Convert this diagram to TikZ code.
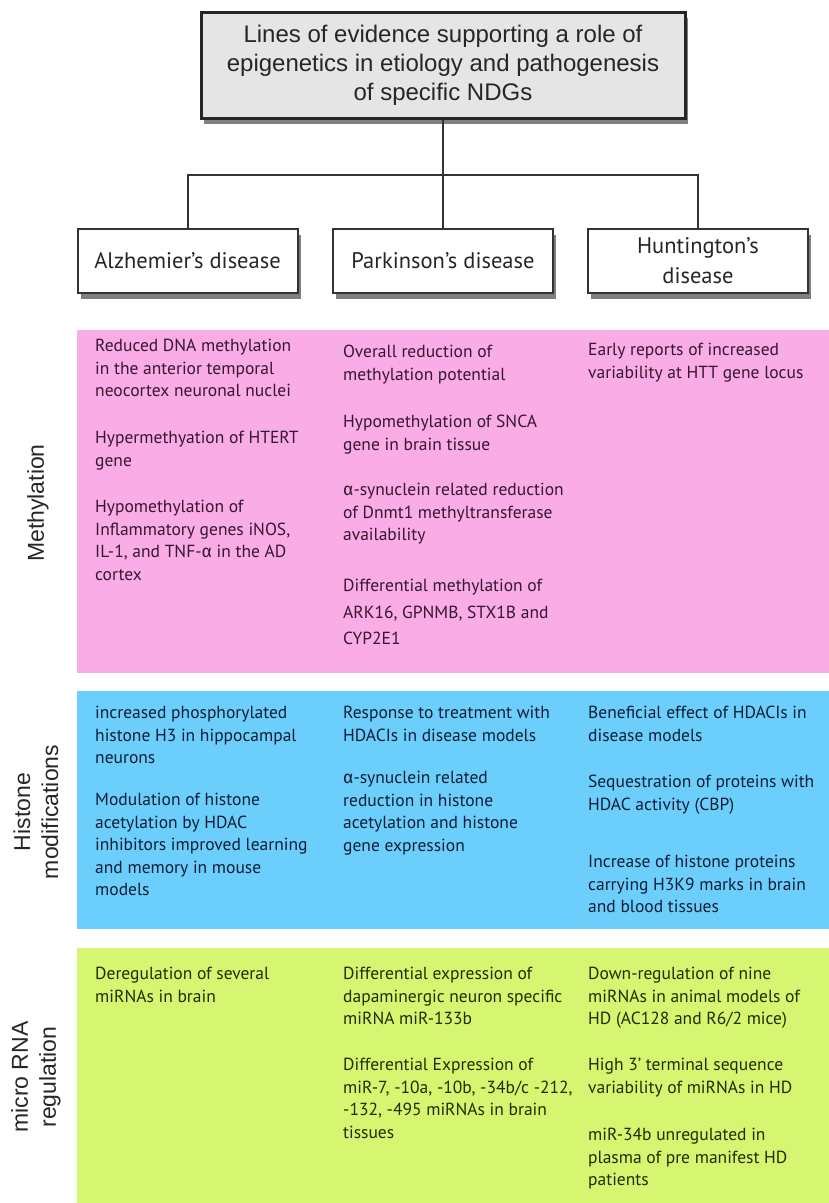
\documentclass[tikz,border=0pt]{standalone}
\usepackage{fontspec}
\setmainfont{PT Sans}
\newfontfamily\helv{Liberation Sans}
\newfontfamily\grk{Fira Sans}
\usetikzlibrary{shadows}
\definecolor{pinkc}{RGB}{249,172,229}
\definecolor{bluec}{RGB}{108,206,250}
\definecolor{greenc}{RGB}{214,245,112}
\definecolor{pinkt}{RGB}{55,22,48}
\definecolor{bluet}{RGB}{14,30,55}
\definecolor{greent}{RGB}{34,45,0}
\newcommand{\alp}{{\grk α}}
\begin{document}
\begin{tikzpicture}[x=1pt,y=-1pt,
  topbox/.style={draw=black!85, line width=3pt, fill=black!10, minimum width=484pt, minimum height=106pt,
    align=center, inner sep=0pt, font=\helv\fontsize{24}{29}\selectfont, text=black!85,
    drop shadow={shadow xshift=3pt, shadow yshift=-6pt, opacity=0.5, fill=black}},
  dbox/.style={draw=black!80, line width=2pt, fill=white, minimum width=220pt, minimum height=64pt,
    align=center, inner sep=0pt, font=\fontsize{22.5}{30}\selectfont, text=black!85,
    drop shadow={shadow xshift=3pt, shadow yshift=-6pt, opacity=0.5, fill=black}},
  band/.style={anchor=north west, inner sep=0pt, draw=none},
  cell/.style={anchor=north west, inner sep=0pt, align=left, font=\fontsize{17.5}{22.5}\selectfont},
  cellw/.style={anchor=north west, inner sep=0pt, align=left, font=\fontsize{17.5}{26.5}\selectfont},
  side/.style={rotate=90, align=center, inner sep=0pt, font=\helv\fontsize{23}{28}\selectfont, text=black!85},
  conn/.style={draw=black!80, line width=2pt}
]
\useasboundingbox (0,0) rectangle (829,1203);

% bands
\node[band, fill=pinkc, minimum width=752pt, minimum height=343pt] (bm) at (77,330) {};
\node[band, fill=bluec, minimum width=752pt, minimum height=238pt] (bh) at (77,691) {};
\node[band, fill=greenc, minimum width=752pt, minimum height=255pt] (bg) at (77,948) {};

% header
\node[topbox] (top) at (443,65) {Lines of evidence supporting a role of\\epigenetics in etiology and pathogenesis\\of specific NDGs};
\node[dbox] (ad) at (187.5,261) {Alzhemier’s disease};
\node[dbox] (pd) at (443,261) {Parkinson’s disease};
\node[dbox] (hd) at (698,261) {Huntington’s\\disease};

\coordinate (hub) at (443,175);
\draw[conn] (top.south) -- (hub);
\draw[conn] (ad.north) |- (hub) -| (hd.north);
\draw[conn] (hub) -- (pd.north);

% side labels
\node[side] (lm) at (38,503) {Methylation};
\node[side] (lh) at (36,812) {Histone\\modifications};
\node[side] (lr) at (36,1077) {micro RNA\\regulation};

% methylation
\begin{scope}[every node/.append style={text=pinkt}]
\node[cell] (m11) at (95,336) {\strut Reduced DNA methylation\\in the anterior temporal\\neocortex neuronal nuclei};
\node[cell] (m12) at (95,428) {\strut Hypermethyation of HTERT\\gene};
\node[cell] (m13) at (95,497) {\strut Hypomethylation of\\Inflammatory genes iNOS,\\IL-1, and TNF-\alp{} in the AD\\cortex};
\node[cell] (m21) at (343,342) {\strut Overall reduction of\\methylation potential};
\node[cell] (m22) at (343,412) {\strut Hypomethylation of SNCA\\gene in brain tissue};
\node[cell] (m23) at (343,480) {\strut \alp-synuclein related reduction\\of Dnmt1 methyltransferase\\availability};
\node[cellw] (m24) at (343,573) {\strut Differential methylation of\\ARK16, GPNMB, STX1B and\\CYP2E1};
\node[cell] (m31) at (588,340) {\strut Early reports of increased\\variability at HTT gene locus};
\end{scope}

% histone
\begin{scope}[every node/.append style={text=bluet}]
\node[cell] (h11) at (95,703) {\strut increased phosphorylated\\histone H3 in hippocampal\\neurons};
\node[cell] (h12) at (95,790) {\strut Modulation of histone\\acetylation by HDAC\\inhibitors improved learning\\and memory in mouse\\models};
\node[cell] (h21) at (343,703) {\strut Response to treatment with\\HDACIs in disease models};
\node[cell] (h22) at (343,768) {\strut \alp-synuclein related\\reduction in histone\\acetylation and histone\\gene expression};
\node[cell] (h31) at (588,703) {\strut Beneficial effect of HDACIs in\\disease models};
\node[cell] (h32) at (588,772) {\strut Sequestration of proteins with\\HDAC activity (CBP)};
\node[cell] (h33) at (588,852) {\strut Increase of histone proteins\\carrying H3K9 marks in brain\\and blood tissues};
\end{scope}

% micro RNA
\begin{scope}[every node/.append style={text=greent}]
\node[cell] (r11) at (95,964) {\strut Deregulation of several\\miRNAs in brain};
\node[cell] (r21) at (343,964) {\strut Differential expression of\\dapaminergic neuron specific\\miRNA miR-133b};
\node[cell] (r22) at (343,1055) {\strut Differential Expression of\\miR-7, -10a, -10b, -34b/c -212,\\-132, -495 miRNAs in brain\\tissues};
\node[cell] (r31) at (588,964) {\strut Down-regulation of nine\\miRNAs in animal models of\\HD (AC128 and R6/2 mice)};
\node[cell] (r32) at (588,1055) {\strut High 3’ terminal sequence\\variability of miRNAs in HD};
\node[cell] (r33) at (588,1125) {\strut miR-34b unregulated in\\plasma of pre manifest HD\\patients};
\end{scope}
\end{tikzpicture}
\end{document}
